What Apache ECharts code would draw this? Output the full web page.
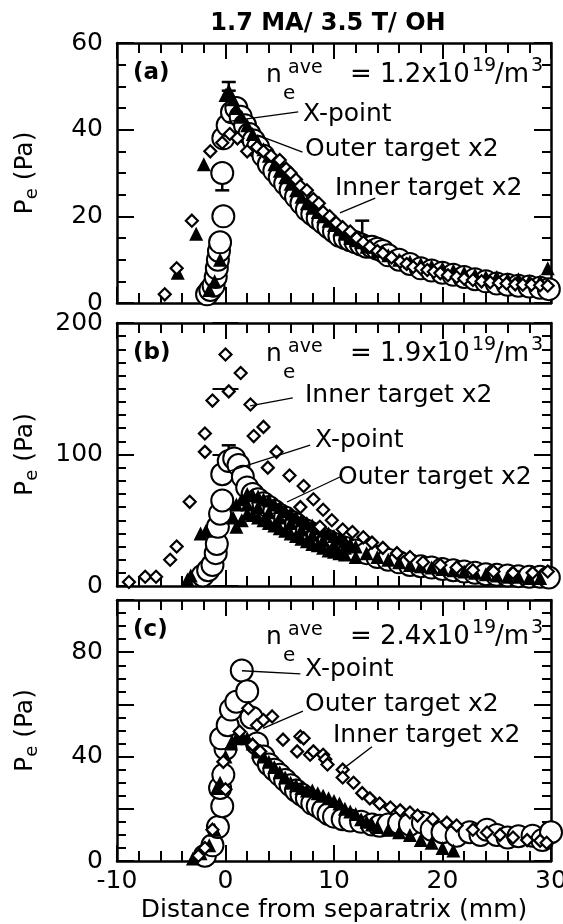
<!DOCTYPE html>
<html>
<head>
<meta charset="utf-8">
<script src="https://cdn.jsdelivr.net/npm/echarts@6/dist/echarts.min.js"></script>
<style>html,body{margin:0;padding:0;background:#fff}#c{width:563px;height:924px}</style>
</head>
<body>
<div id="c"></div>
<script>
// ---------- DATA ----------
const titleText = '1.7 MA/ 3.5 T/ OH';
const panelTags = ['(a)', '(b)', '(c)'];
const densityValues = ['1.2', '1.9', '2.4'];
const xTicks = [-10, 0, 10, 20, 30];
const yTicksA = [0, 20, 40, 60];
const yTicksB = [0, 100, 200];
const yTicksC = [0, 40, 80];
const seriesNames = ['X-point', 'Outer target x2', 'Inner target x2'];

// Panel (a)
const xpointA = [[-1.7,2],[-1.4,3],[-1.1,4],[-0.9,6],[-0.8,8],[-0.7,10],[-0.6,12],[-0.5,14],[-0.2,20],[-0.3,30],[-0.2,38],[0.2,41],[0.6,44],[1.0,45],[1.4,43],[1.8,41],[2.2,39],[2.6,37.5],[3.0,36],[3.5,34],[4.0,32],[4.5,30.5],[5.0,29],[5.5,27.5],[6.0,26],[6.5,24.5],[7.0,23],[7.5,21.5],[8.0,20.5],[8.5,19.5],[9.0,18.5],[9.5,17.5],[10.0,16.5],[10.5,15.5],[11.0,15],[11.5,14.5],[12.0,14],[12.5,13.5],[13.0,13],[13.5,13],[14.0,12.5],[14.5,12],[15.0,11],[16.0,10],[17.0,9],[18.0,8],[19.0,7.5],[20.0,7],[21.0,6.5],[22.0,6],[23.0,5.5],[24.0,5],[25.0,4.5],[26.0,4.2],[27.0,4],[28.0,3.8],[29.0,3.5],[29.8,3.2]];
const outerA = [[-4.4,7],[-2.7,16],[-2.0,32],[-1.5,3],[-1.0,5],[-0.5,10],[0.0,48],[0.3,49],[0.7,47],[1.0,45],[1.5,43],[2.0,41],[2.5,39],[3.0,37],[3.5,35.5],[4.0,34],[4.5,32],[5.0,30.5],[5.5,29],[6.0,27.5],[6.5,26],[7.0,24.5],[7.5,23],[8.0,22],[8.5,21],[9.0,20],[9.5,19],[10.0,18],[10.5,17],[11.0,16],[11.5,15],[12.0,14.5],[12.5,14],[13.0,13],[14.0,12],[15.0,11],[16.0,10],[17.0,9.5],[18.0,9],[19.0,8.5],[20.0,8],[21.0,7.5],[22.0,7],[23.0,6.5],[24.0,6],[25.0,6],[26.0,5.5],[27.0,5.5],[28.0,5],[29.0,5],[29.7,8]];
const innerA = [[-5.6,2],[-4.5,8],[-3.1,19],[-1.4,35],[-0.3,37],[0.4,39],[1.1,38],[2.0,35],[2.9,36],[3.5,35],[4.2,34],[5.0,33],[5.6,31],[6.0,30],[6.5,28.5],[6.9,27],[7.5,26],[8.1,24],[8.6,23],[9.0,21],[9.6,20],[10.2,18.5],[10.8,17.5],[11.5,16.5],[12.1,15],[12.7,14],[13.3,13],[14.0,12],[14.5,11.5],[15.3,10.5],[16.1,9.5],[16.7,9],[17.3,8.3],[18.0,8],[18.6,7.6],[19.2,7.2],[19.8,6.9],[20.5,6.4],[21.3,6],[22.0,5.6],[22.8,5.3],[23.6,5],[24.4,4.8],[25.2,4.6],[25.9,4.5],[26.7,4.3],[27.4,4.2],[28.2,4.2],[29.0,4.1],[29.7,4]];
const errorsA = [[-0.3,26,30],[0.3,49,51],[12.6,15,19]];

// Panel (b)
const xpointB = [[-2.1,8],[-1.6,12],[-1.2,16],[-0.9,25],[-0.8,32],[-0.7,45],[-0.5,55],[-0.3,65],[-0.3,85],[0.3,95],[0.8,97],[1.2,92],[1.6,83],[2.0,75],[2.5,70],[3.0,66],[3.5,63],[4.0,60],[4.5,57],[5.0,54],[5.5,52],[6.0,49],[6.5,47],[7.0,44],[7.5,42],[8.0,40],[8.5,38],[9.0,36],[9.5,34],[10.0,32],[11.0,29],[12.0,27],[13.0,25],[14.0,22],[15.0,20],[16.0,18],[17.0,16],[18.0,15],[19.0,14],[20.0,13],[21.0,12],[22.0,11],[23.0,10],[24.0,9],[25.0,8.5],[26.0,8],[27.0,7.5],[28.0,7],[29.0,7],[29.8,6.5]];
const outerB = [[-3.5,5],[-3.2,8],[-2.3,40],[-1.8,42],[0.7,52],[1.0,62],[1.5,66],[2.0,70],[2.5,69],[3.0,68],[3.5,66],[4.0,65],[4.5,62],[5.0,60],[5.5,57],[6.0,55],[6.5,52],[7.0,50],[7.5,48],[8.0,46],[8.5,44],[9.0,42],[9.5,40],[10.0,38],[10.5,36],[11.0,34],[11.5,32],[12.0,30],[1.0,45],[1.5,50],[2.0,55],[2.5,54],[3.0,52],[3.5,50],[4.0,48],[4.5,46],[5.0,44],[5.5,42],[6.0,40],[6.5,38],[7.0,36],[7.5,34],[8.0,32],[8.5,31],[9.0,29],[9.5,27],[10.0,26],[10.5,25],[11.0,24],[12.0,22],[2.0,62],[3.0,60],[4.0,56],[5.0,52],[6.0,48],[7.0,43],[8.0,39],[9.0,35],[10.0,32],[11.0,29],[13.0,25],[14.0,22],[15.0,20],[16.0,18],[17.0,16],[18.0,15],[19.0,14],[20.0,13],[21.0,12],[22.0,11],[23.0,10],[24.0,9],[25.0,8],[26.0,7],[27.0,7],[28.0,6],[29.0,6]];
const innerB = [[-8.9,3],[-7.4,7],[-6.4,7],[-5.1,20],[-4.5,30],[-3.3,64],[-1.9,102],[-1.9,116],[-1.2,141],[0.0,176],[0.3,148],[1.4,162],[2.3,138],[2.6,114],[3.5,121],[3.9,90],[4.7,102],[5.9,84],[6.9,60],[7.2,76],[8.1,66],[8.7,45],[9.0,58],[9.8,50],[10.8,43],[11.7,41],[12.7,37],[13.5,33],[14.5,29],[15.8,25],[17.0,22],[18.2,18],[19.8,16],[21.3,14],[22.8,12],[24.7,11],[26.5,10],[28.3,10],[29.7,11]];
const errorsB = [[0.3,95,107]];

// Panel (c)
const xpointC = [[-1.9,2],[-1.2,6],[-0.7,13],[-0.3,21],[-0.5,28],[-0.2,33],[0.0,43],[-0.4,47],[0.2,52],[0.5,58],[1.0,61],[1.5,73],[2.0,65],[2.4,55],[2.9,45],[3.5,40],[4.0,37],[4.5,35],[5.0,33],[5.5,31],[6.0,29],[6.5,27],[7.0,25.5],[7.5,24],[8.0,22],[8.5,21],[9.0,19.5],[9.5,18],[10.0,17],[10.8,16],[11.5,15.5],[12.5,15],[13.5,14],[14.2,13.5],[15.0,14],[16.0,14.5],[17.0,14],[18.2,14.7],[19.0,12],[20.0,11],[21.3,9.7],[22.5,11],[23.5,10],[24.1,12],[25.0,10],[26.0,9],[27.0,9.5],[28.3,9.7],[29.2,8],[30.0,11]];
const outerC = [[-3.0,1],[-2.3,3],[-1.5,6],[-1.0,12],[-0.8,28],[-0.5,30],[0.0,40],[0.5,45],[1.0,47],[1.5,48],[2.0,47],[2.5,45],[3.0,42],[3.5,40],[4.0,38],[4.5,36],[5.0,34],[5.5,32],[6.0,30],[6.5,29],[7.0,28],[7.5,27],[8.0,27],[8.5,26],[9.0,25],[9.5,24],[10.0,23],[10.5,22],[11.0,20],[11.5,19],[12.0,18],[12.5,16],[13.0,15],[13.5,14],[14.0,13],[15.0,12],[16.0,11],[17.0,10],[18.0,8],[19.0,7],[20.0,5],[21.0,4]];
const innerC = [[-2.5,2],[-1.9,5],[-1.2,12],[0.0,27.5],[-0.2,38],[1.3,49.6],[2.1,58.5],[2.5,44.5],[2.9,52],[3.2,42],[3.5,54],[4.3,55.4],[5.3,46.5],[6.6,42],[6.9,47.7],[7.2,47],[7.8,40.7],[8.1,42],[9.0,40.7],[9.2,39],[9.4,37],[10.8,35],[10.8,32],[11.8,30],[12.6,26],[13.3,24],[14.2,22],[15.2,20.5],[16.1,19.4],[17.0,18.6],[17.7,17.4],[19.1,16],[20.4,14.7],[21.3,13.6],[22.8,12],[24.1,10.9],[25.3,10],[26.5,9],[27.8,8],[29.0,7.8],[29.6,7]];
const errorsC = [[1.5,73,76]];

// Leader lines (data coordinates): [series index, [x1,y1], [x2,y2]]
const leadersA = [[0,[-0.05,41.8],[6.7,44.1]],[1,[2.9,38.8],[7.1,34.8]],[2,[10.55,20.8],[13.8,24.2]]];
const leadersB = [[2,[2.26,136.9],[6.2,143]],[0,[0.14,86.7],[7.8,107.2]],[1,[5.67,63.9],[10.55,82.9]]];
const leadersC = [[0,[1.52,72.9],[6.9,71.7]],[1,[3.46,50.8],[7.14,57.4]],[2,[10.83,35.3],[13.5,43.8]]];

// ---------- LAYOUT / STYLE ----------
const FONT = 'DejaVu Sans';
const grids = [
  {top: 43, height: 260},
  {top: 323, height: 263},
  {top: 600, height: 261}
];
const yRanges = [
  {min: 0, max: 60, interval: 20, minorSplit: 4, ticks: yTicksA},
  {min: 0, max: 200, interval: 100, minorSplit: 10, ticks: yTicksB, mid: 50},
  {min: 0, max: 100, interval: 20, minorSplit: 4, ticks: yTicksC}
];
const panelSeries = [
  [xpointA, outerA, innerA, leadersA, errorsA],
  [xpointB, outerB, innerB, leadersB, errorsB],
  [xpointC, outerC, innerC, leadersC, errorsC]
];
// annotation text positions (pixels)
const labelPos = [
  [[303,114],[305,149],[335,188]],
  [[315,440],[338,477],[305,395]],
  [[305,669],[305,704],[333,735]]
];
const baseLines = [83, 362, 645];

const tickStyle = {color: '#000', width: 2};
const gridList = [], xAxes = [], yAxes = [], extraY = [], series = [], graphics = [];

grids.forEach((g, i) => {
  gridList.push({left: 117, width: 434, top: g.top, height: g.height, containLabel: false, outerBoundsMode: 'none'});
  const last = i === grids.length - 1;
  const xBase = {
    gridIndex: i, type: 'value', min: xTicks[0], max: xTicks[xTicks.length - 1], interval: 10,
    axisLine: {show: true, onZero: false, lineStyle: {color: '#000', width: 2.5}},
    axisTick: {show: true, inside: true, length: 16, lineStyle: tickStyle},
    minorTick: {show: true, splitNumber: 5, length: 10, lineStyle: tickStyle},
    splitLine: {show: false}
  };
  xAxes.push(Object.assign({}, xBase, {
    position: 'bottom',
    axisLabel: {show: last, color: '#000', fontFamily: FONT, fontSize: 25, margin: 8, hideOverlap: false},
    name: last ? 'Distance from separatrix (mm)' : '',
    nameLocation: 'middle', nameGap: 37,
    nameTextStyle: {color: '#000', fontFamily: FONT, fontSize: 25}
  }));
  xAxes.push(Object.assign({}, xBase, {position: 'top', axisLabel: {show: false}}));
  const r = yRanges[i];
  const yBase = {
    gridIndex: i, type: 'value', min: r.min, max: r.max, interval: r.interval,
    axisLine: {show: true, onZero: false, lineStyle: {color: '#000', width: 2.5}},
    axisTick: {show: true, inside: true, length: 17, lineStyle: tickStyle},
    minorTick: {show: true, splitNumber: r.minorSplit, length: 9, lineStyle: tickStyle},
    splitLine: {show: false}
  };
  yAxes.push(Object.assign({}, yBase, {
    position: 'left',
    axisLabel: {
      show: true, color: '#000', fontFamily: FONT, fontSize: 25, margin: 14,
      formatter: v => (r.ticks.indexOf(v) >= 0 ? String(v) : '')
    },
    name: '{p|P}{s|e}{p| (Pa)}', nameLocation: 'middle', nameGap: 76, nameRotate: 90,
    nameTextStyle: {color: '#000', rich: {
      p: {fontFamily: FONT, fontSize: 25, color: '#000'},
      s: {fontFamily: FONT, fontSize: 18, color: '#000', padding: [14, 0, 0, 0]}
    }}
  }));
  yAxes.push(Object.assign({}, yBase, {position: 'right', axisLabel: {show: false}}));
  if (r.mid) {
    ['left', 'right'].forEach(pos => extraY.push({
      gridIndex: i, type: 'value', min: r.min, max: r.max, interval: r.mid, position: pos,
      axisLine: {show: false}, axisLabel: {show: false}, splitLine: {show: false},
      axisTick: {show: true, inside: true, length: 13, lineStyle: tickStyle}
    }));
  }

  const [xp, ot, inn, leaders, errs] = panelSeries[i];
  const common = {type: 'scatter', xAxisIndex: 2 * i, yAxisIndex: 2 * i, silent: true, clip: false};
  const mk = idx => ({
    silent: true, symbol: ['none', 'none'], animation: false,
    label: {show: false},
    lineStyle: {color: '#000', width: 1.3, type: 'solid'},
    data: leaders.filter(l => l[0] === idx).map(l => [{coord: l[1]}, {coord: l[2]}])
  });
  series.push({
    type: 'custom', xAxisIndex: 2 * i, yAxisIndex: 2 * i, silent: true, clip: false,
    data: errs,
    renderItem: (params, api) => {
      const x = api.value(0), lo = api.value(1), hi = api.value(2);
      const p1 = api.coord([x, lo]), p2 = api.coord([x, hi]);
      const w = 7, st = {stroke: '#000', lineWidth: 2.5};
      return {type: 'group', children: [
        {type: 'line', shape: {x1: p1[0], y1: p1[1], x2: p2[0], y2: p2[1]}, style: st},
        {type: 'line', shape: {x1: p1[0] - w, y1: p1[1], x2: p1[0] + w, y2: p1[1]}, style: st},
        {type: 'line', shape: {x1: p2[0] - w, y1: p2[1], x2: p2[0] + w, y2: p2[1]}, style: st}
      ]};
    }
  });
  series.push(Object.assign({}, common, {
    name: seriesNames[0], data: xp, symbol: 'circle', symbolSize: 22,
    itemStyle: {color: '#fff', borderColor: '#000', borderWidth: 2, opacity: 1}, markLine: mk(0)
  }));
  series.push(Object.assign({}, common, {
    name: seriesNames[1], data: ot, symbol: 'triangle', symbolSize: 14,
    itemStyle: {color: '#000', opacity: 1}, markLine: mk(1)
  }));
  series.push(Object.assign({}, common, {
    name: seriesNames[2], data: inn, symbol: 'diamond', symbolSize: 12,
    itemStyle: {color: '#fff', borderColor: '#000', borderWidth: 2.2, opacity: 1}, markLine: mk(2)
  }));

  const t = (text, x, y, size, weight) => graphics.push({
    type: 'text', x: x, y: y, z: 100, silent: true,
    style: {text: text, fill: '#000', fontFamily: FONT, fontSize: size, fontWeight: weight || 'normal', align: 'left', verticalAlign: 'middle'}
  });
  t(panelTags[i], 133, g.top + 30, 23, 'bold');
  const b = baseLines[i];
  t('n', 266, b - 8, 25);
  t('e', 283, b + 11, 20);
  t('ave', 288, b - 15, 19);
  t('= ' + densityValues[i] + 'x10', 350, b - 8, 26);
  t('19', 472, b - 17, 19);
  t('/m', 495, b - 8, 26);
  t('3', 531, b - 17, 19);
  labelPos[i].forEach((p, k) => t(seriesNames[k], p[0], p[1], 25));
});

graphics.push({
  type: 'text', x: 328, y: 24, z: 100, silent: true,
  style: {text: titleText, fill: '#000', fontFamily: FONT, fontSize: 24, fontWeight: 'bold', align: 'center', verticalAlign: 'middle'}
});

const chart = echarts.init(document.getElementById('c'), null, {renderer: 'canvas'});
chart.setOption({
  animation: false,
  backgroundColor: '#fff',
  grid: gridList,
  xAxis: xAxes,
  yAxis: yAxes.concat(extraY),
  series: series,
  graphic: graphics
});
</script>
</body>
</html>
